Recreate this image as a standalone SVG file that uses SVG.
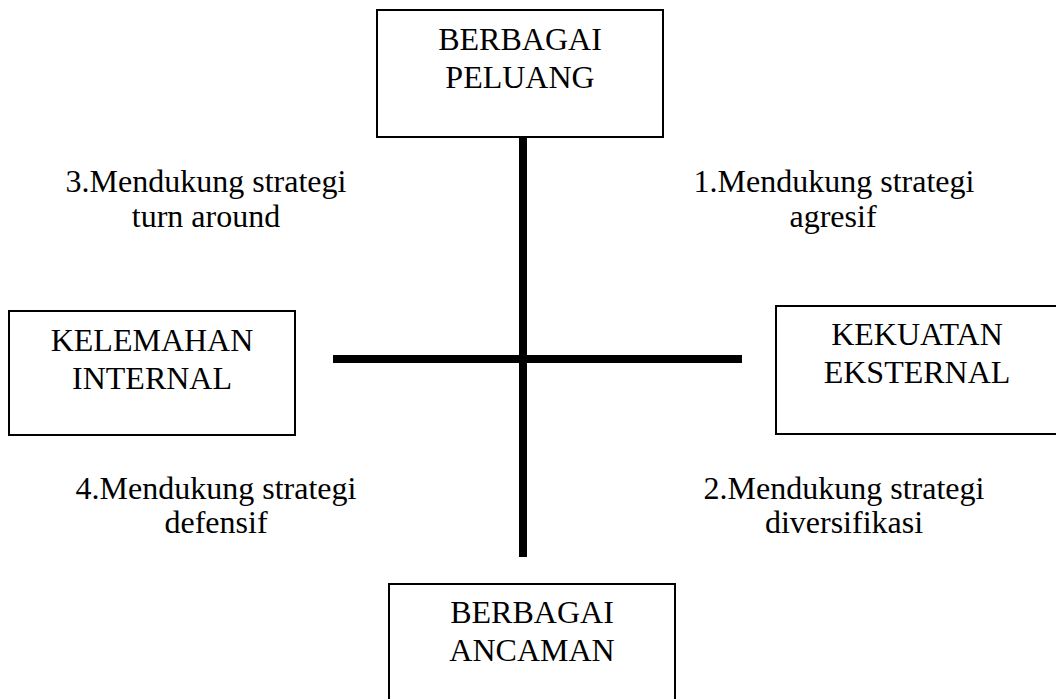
<svg xmlns="http://www.w3.org/2000/svg" width="1056" height="699" viewBox="0 0 1056 699">
<style>
.box{fill:#fff;stroke:#000;stroke-width:2}
.t{font-family:"Liberation Serif","Times New Roman",serif;font-size:32px;fill:#000;text-anchor:middle}
.l{font-family:"Liberation Serif","Times New Roman",serif;font-size:32px;fill:#000;text-anchor:middle}
.ax{stroke:#000;stroke-width:8}
</style>
<rect width="1056" height="699" fill="#fff"/>
<g id="connectors">
<line class="ax" x1="523" y1="137" x2="523" y2="557"/>
<line class="ax" x1="333" y1="359" x2="742" y2="359"/>
</g>
<g id="peluang">
<rect class="box" x="377" y="10" width="286" height="127"/>
<text class="t" x="520" y="50">BERBAGAI</text>
<text class="t" x="520" y="88">PELUANG</text>
</g>
<g id="kelemahan">
<rect class="box" x="9" y="311" width="286" height="124"/>
<text class="t" x="152" y="351">KELEMAHAN</text>
<text class="t" x="152" y="389">INTERNAL</text>
</g>
<g id="kekuatan">
<rect class="box" x="776" y="306" width="290" height="128"/>
<text class="t" x="917" y="345">KEKUATAN</text>
<text class="t" x="917" y="383">EKSTERNAL</text>
</g>
<g id="ancaman">
<rect class="box" x="389" y="584" width="286" height="130"/>
<text class="t" x="532" y="623">BERBAGAI</text>
<text class="t" x="532" y="661">ANCAMAN</text>
</g>
<g id="labels">
<text class="l" x="206" y="192">3.Mendukung strategi</text>
<text class="l" x="206" y="227">turn around</text>
<text class="l" x="834" y="192">1.Mendukung strategi</text>
<text class="l" x="833" y="227">agresif</text>
<text class="l" x="216" y="499">4.Mendukung strategi</text>
<text class="l" x="216" y="533">defensif</text>
<text class="l" x="844" y="499">2.Mendukung strategi</text>
<text class="l" x="844" y="533">diversifikasi</text>
</g>
</svg>
